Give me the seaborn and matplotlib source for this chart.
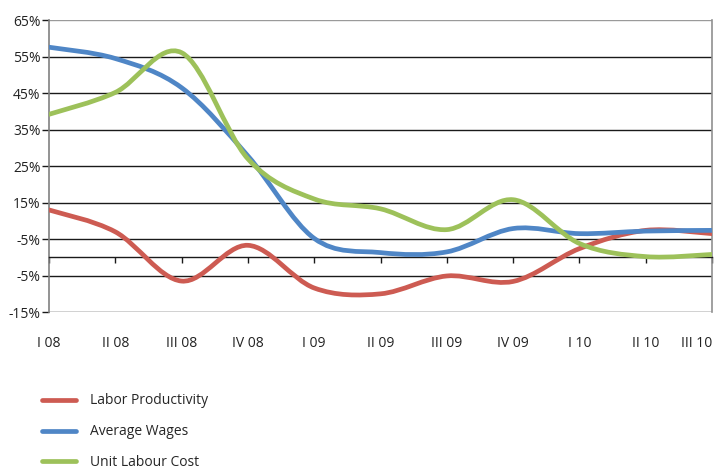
import numpy as np
import pandas as pd
import matplotlib
matplotlib.use("Agg")
import matplotlib.pyplot as plt
from matplotlib.path import Path
from matplotlib.patches import PathPatch
from matplotlib.lines import Line2D
import seaborn as sns

# Quarterly growth rates (%), Q1 2008 - Q3 2010
quarters = ["I 08", "II 08", "III 08", "IV 08", "I 09", "II 09",
            "III 09", "IV 09", "I 10", "II 10", "III 10"]
labor_productivity = [13.0, 7.0, -6.5, 3.3, -8.4, -10.0, -5.1, -6.6, 2.4, 7.4, 6.5]
average_wages = [57.6, 54.5, 46.5, 27.8, 5.2, 1.3, 1.5, 7.9, 6.5, 7.2, 7.4]
unit_labour_cost = [39.2, 45.2, 56.1, 27.0, 16.0, 13.3, 7.6, 15.8, 3.8, 0.2, 0.8]

series_names = ["Labor Productivity", "Average Wages", "Unit Labour Cost"]
series_colors = ["#CD5B52", "#4F86C6", "#9DC15A"]

y_ticks = [-15, -5, 5, 15, 25, 35, 45, 55, 65]
y_tick_labels = ["-15%", "-5%", "-5%", "15%", "25%", "35%", "45%", "55%", "65%"]

df = pd.DataFrame({
    "pos": list(range(len(quarters))) * 3,
    "value": labor_productivity + average_wages + unit_labour_cost,
    "series": sum([[n] * len(quarters) for n in series_names], []),
})

sns.set_theme(style="white")
plt.rcParams["font.family"] = ["Open Sans", "DejaVu Sans"]

fig = plt.figure(figsize=(7.2, 4.7), dpi=100)
ax = fig.add_axes([0.068, 0.336, 0.921, 0.621])

sns.lineplot(data=df, x="pos", y="value", hue="series", hue_order=series_names,
             palette=series_colors, estimator=None, linewidth=3.4, legend=False,
             ax=ax, zorder=3)


def smooth_path(xy):
    """Catmull-Rom style cubic Bezier through the points (like smoothed lines)."""
    pts = np.asarray(xy)
    n = len(pts)
    verts = [pts[0]]
    codes = [Path.MOVETO]
    for i in range(n - 1):
        p0 = pts[i - 1] if i > 0 else pts[i]
        p1 = pts[i]
        p2 = pts[i + 1]
        p3 = pts[i + 2] if i + 2 < n else pts[i + 1]
        c1 = p1 + (p2 - p0) / 6.0
        c2 = p2 - (p3 - p1) / 6.0
        verts += [c1, c2, p2]
        codes += [Path.CURVE4] * 3
    return Path(verts, codes)


# Replace straight segments with smoothed curves through the same points
for line, color in zip(list(ax.lines), series_colors):
    patch = PathPatch(smooth_path(line.get_xydata()), facecolor="none",
                      edgecolor=color, linewidth=3.4, capstyle="round",
                      joinstyle="round", zorder=3)
    ax.add_patch(patch)
    line.set_visible(False)

ax.set_xlim(0, len(quarters) - 1)
ax.set_ylim(-15, 65)
ax.set_xlabel("")
ax.set_ylabel("")

# Horizontal gridlines
ax.set_yticks(y_ticks)
ax.set_yticklabels(y_tick_labels, fontsize=10, color="#222222")
for yv in y_ticks[:-1]:
    ax.axhline(yv, color="#1a1a1a", linewidth=1.0, zorder=1)
ax.axhline(65, color="#9a9a9a", linewidth=1.0, zorder=1)
ax.tick_params(axis="y", direction="out", length=5, width=1.0,
               color="#1a1a1a", pad=1, left=True)

# Category axis crosses at zero
ax.spines["bottom"].set_position(("data", 0))
ax.spines["bottom"].set_color("#1a1a1a")
ax.spines["bottom"].set_linewidth(1.0)
ax.set_xticks(range(len(quarters)))
ax.set_xticklabels([""] * len(quarters))
ax.tick_params(axis="x", direction="out", length=4, width=1.0,
               color="#1a1a1a", bottom=True)
ax.spines["left"].set_color("#808080")
ax.spines["right"].set_color("#909090")
ax.spines["left"].set_linewidth(1.2)
ax.spines["right"].set_linewidth(1.2)
ax.spines["top"].set_visible(False)

# Quarter labels below the plot area
sec = ax.secondary_xaxis(0.0)
sec.set_xticks(range(len(quarters)))
sec.set_xticklabels(quarters, fontsize=10, color="#222222")
sec.tick_params(length=0, pad=17)
sec.spines["bottom"].set_visible(False)
sec.get_xticklabels()[-1].set_horizontalalignment("right")

handles = [Line2D([0], [0], color=c, linewidth=3.4, solid_capstyle="round")
           for c in series_colors]
fig.legend(handles, series_names, loc="upper left",
           bbox_to_anchor=(0.058, 0.163), frameon=False, fontsize=10,
           handlelength=2.5, handletextpad=1.0, labelspacing=1.15,
           borderpad=0, borderaxespad=0)

fig.savefig("out.png", dpi=100)
